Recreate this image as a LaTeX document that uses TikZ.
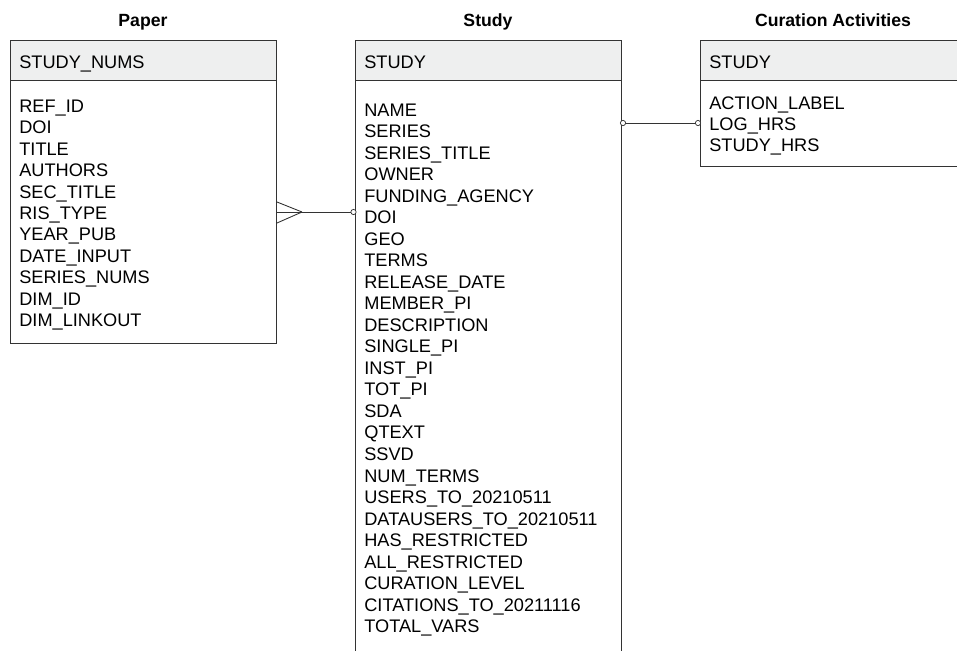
\documentclass[tikz,border=0pt]{standalone}
\usepackage{fontspec}
\setmainfont{Liberation Sans}
\usetikzlibrary{positioning}

\definecolor{headgray}{HTML}{EEEFEF}
\definecolor{linegray}{HTML}{333333}

\tikzset{
  entbox/.style={draw=linegray, line width=0.6pt, fill=white, inner sep=0pt, anchor=north west},
  headbox/.style={draw=linegray, line width=0.6pt, fill=headgray, inner sep=0pt, anchor=north west},
  fieldtext/.style={anchor=base west, inner sep=0pt, font=\fontsize{10.35}{12.24}\selectfont},
  titletext/.style={anchor=base, inner sep=0pt, font=\bfseries\fontsize{10.05}{12}\selectfont},
  rel/.style={draw=linegray, line width=0.5pt},
  endmark/.style={circle, draw=linegray, fill=white, line width=0.4pt, inner sep=0pt, minimum size=3pt}
}

\begin{document}
\begin{tikzpicture}[x=0.02cm, y=-0.02cm]

\useasboundingbox (0,0) rectangle (957,650);
\clip (0,0) rectangle (957,650);

% Entity outlines
\node[entbox, minimum width=5.32cm, minimum height=6.06cm] (paper) at (10,40) {}; % Paper
\node[entbox, minimum width=5.32cm, minimum height=13.2cm] (study) at (355,40) {}; % Study
\node[entbox, minimum width=5.32cm, minimum height=2.52cm] (cur) at (700,40) {}; % Curation Activities

% Header bands
\node[headbox, minimum width=5.32cm, minimum height=0.8cm] (paperhead) at (10,40) {};
\node[headbox, minimum width=5.32cm, minimum height=0.8cm] (studyhead) at (355,40) {};
\node[headbox, minimum width=5.32cm, minimum height=0.8cm] (curhead) at (700,40) {};

% Titles
\node[titletext] (papertitle) at (143,26) {Paper};
\node[titletext] (studytitle) at (488,26) {Study};
\node[titletext] (curtitle) at (833,26) {Curation Activities};

% Keys
\node[fieldtext] (paperkey) at (19,68.3) {STUDY\_NUMS};
\node[fieldtext] (studykey) at (364,68.3) {STUDY};
\node[fieldtext] (curkey) at (709,68.3) {STUDY};

% Attributes
\foreach \f [count=\i] in {REF\_ID,DOI,TITLE,AUTHORS,SEC\_TITLE,RIS\_TYPE,YEAR\_PUB,DATE\_INPUT,SERIES\_NUMS,DIM\_ID,DIM\_LINKOUT}
  \node[fieldtext] (pf\i) at (19,112.5+21.4*\i-21.4) {\f};

\foreach \f [count=\i] in {NAME,SERIES,SERIES\_TITLE,OWNER,FUNDING\_AGENCY,DOI,GEO,TERMS,RELEASE\_DATE,MEMBER\_PI,DESCRIPTION,SINGLE\_PI,INST\_PI,TOT\_PI,SDA,QTEXT,SSVD,NUM\_TERMS,USERS\_TO\_20210511,DATAUSERS\_TO\_20210511,HAS\_RESTRICTED,ALL\_RESTRICTED,CURATION\_LEVEL,CITATIONS\_TO\_20211116,TOTAL\_VARS}
  \node[fieldtext] (sf\i) at (364,116+21.53*\i-21.53) {\f};

\foreach \f [count=\i] in {ACTION\_LABEL,LOG\_HRS,STUDY\_HRS}
  \node[fieldtext] (cf\i) at (709,109.5+21*\i-21) {\f};

% Relationship points
\coordinate (pjoin) at (276,212);
\coordinate (ptoe) at (302,212);
\coordinate (sjoin) at (355,212);
\coordinate (sout) at (621,123);
\coordinate (cin) at (700,123);

% Paper (many) -- Study (one)
\draw[rel] (paper.east |- pjoin) -- (study.west |- sjoin);
\draw[rel] ([yshift=0.2cm]paper.east |- pjoin) -- (ptoe);
\draw[rel] ([yshift=-0.22cm]paper.east |- pjoin) -- (ptoe);
\node[endmark] (smark) at ([xshift=-0.03cm]sjoin) {};

% Study -- Curation Activities
\draw[rel] (sout) -- (cin);
\node[endmark] (smark2) at ([xshift=0.04cm]sout) {};
\node[endmark] (cmark) at ([xshift=-0.04cm]cin) {};

\end{tikzpicture}
\end{document}
